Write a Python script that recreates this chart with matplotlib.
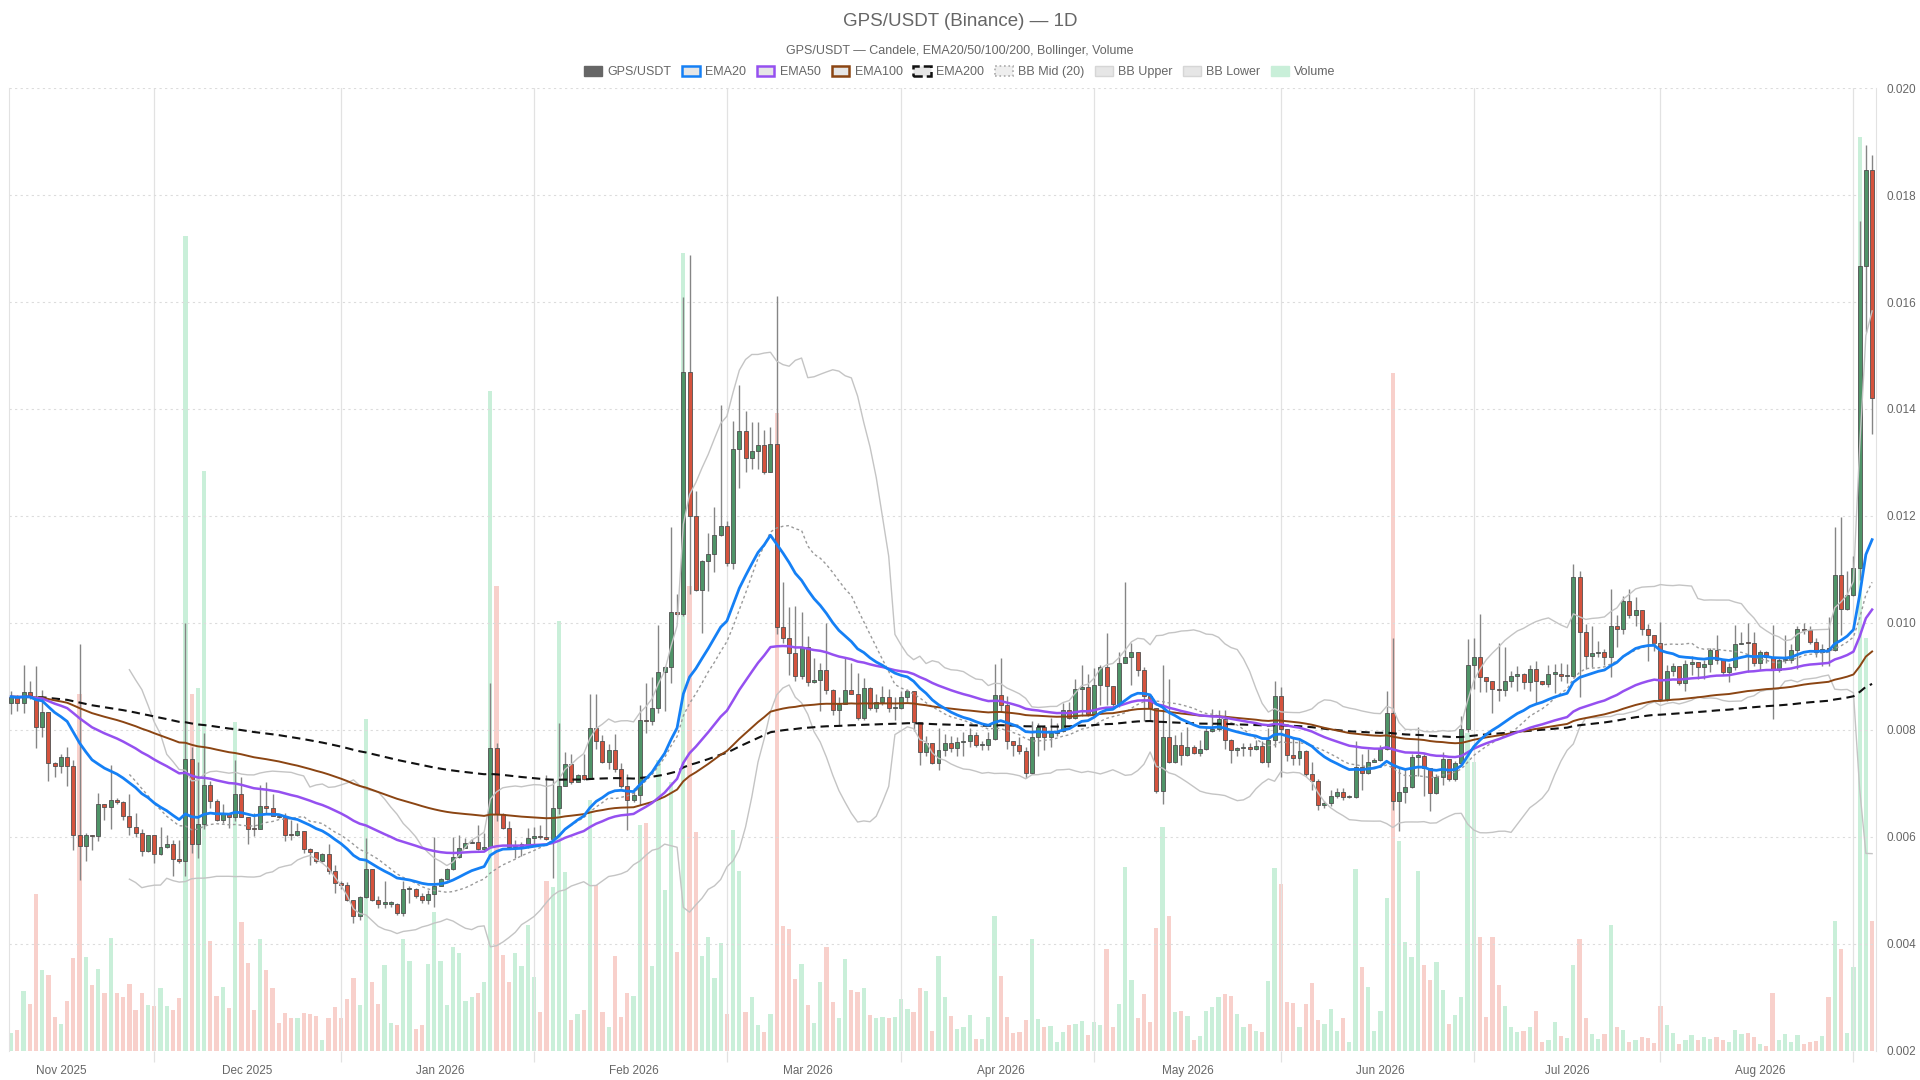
import numpy as np
import pandas as pd
import matplotlib
matplotlib.use("Agg")
from matplotlib import pyplot as plt
import matplotlib.dates as mdates
from matplotlib.patches import Patch

plt.rcParams['font.family'] = ['Liberation Sans', 'DejaVu Sans']

start_date = '2025-10-24'
open0 = 0.00851

closes = [
    0.00862, 0.00850, 0.00871, 0.00862, 0.00806, 0.00834, 0.00738, 0.00732, 0.00750, 0.00732,
    0.00603, 0.00584, 0.00604, 0.00601, 0.00661, 0.00656, 0.00670, 0.00666, 0.00639, 0.00618,
    0.00607, 0.00573, 0.00603, 0.00568, 0.00582, 0.00586, 0.00559, 0.00556, 0.00745, 0.00586,
    0.00625, 0.00697, 0.00667, 0.00631, 0.00642, 0.00637, 0.00680, 0.00637, 0.00615, 0.00614,
    0.00657, 0.00655, 0.00640, 0.00637, 0.00604, 0.00603, 0.00611, 0.00578, 0.00571, 0.00555,
    0.00569, 0.00537, 0.00514, 0.00511, 0.00483, 0.00453, 0.00488, 0.00541, 0.00483, 0.00475,
    0.00475, 0.00475, 0.00457, 0.00503, 0.00503, 0.00489, 0.00482, 0.00493, 0.00509, 0.00522,
    0.00540, 0.00563, 0.00580, 0.00589, 0.00591, 0.00578, 0.00581, 0.00766, 0.00642, 0.00617,
    0.00581, 0.00584, 0.00585, 0.00598, 0.00601, 0.00600, 0.00596, 0.00654, 0.00695, 0.00736,
    0.00703, 0.00715, 0.00709, 0.00803, 0.00779, 0.00741, 0.00762, 0.00727, 0.00696, 0.00670,
    0.00678, 0.00819, 0.00816, 0.00841, 0.00909, 0.00917, 0.01021, 0.01017, 0.01470, 0.01200,
    0.01062, 0.01115, 0.01129, 0.01164, 0.01181, 0.01112, 0.01325, 0.01358, 0.01309, 0.01322,
    0.01333, 0.01282, 0.01334, 0.00992, 0.00972, 0.00943, 0.00901, 0.00955, 0.00889, 0.00893,
    0.00913, 0.00875, 0.00838, 0.00848, 0.00875, 0.00867, 0.00823, 0.00879, 0.00841, 0.00852,
    0.00862, 0.00841, 0.00841, 0.00862, 0.00872, 0.00814, 0.00758, 0.00776, 0.00738, 0.00762,
    0.00775, 0.00767, 0.00777, 0.00780, 0.00790, 0.00771, 0.00772, 0.00784, 0.00866, 0.00847,
    0.00779, 0.00771, 0.00760, 0.00720, 0.00787, 0.00806, 0.00787, 0.00794, 0.00799, 0.00838,
    0.00823, 0.00876, 0.00881, 0.00830, 0.00884, 0.00918, 0.00883, 0.00849, 0.00925, 0.00937,
    0.00945, 0.00913, 0.00864, 0.00842, 0.00685, 0.00786, 0.00740, 0.00772, 0.00754, 0.00769,
    0.00757, 0.00765, 0.00798, 0.00801, 0.00820, 0.00781, 0.00762, 0.00766, 0.00766, 0.00765,
    0.00770, 0.00740, 0.00781, 0.00864, 0.00801, 0.00754, 0.00748, 0.00760, 0.00718, 0.00704,
    0.00659, 0.00663, 0.00677, 0.00684, 0.00675, 0.00675, 0.00731, 0.00720, 0.00740, 0.00743,
    0.00765, 0.00831, 0.00667, 0.00684, 0.00694, 0.00750, 0.00751, 0.00728, 0.00682, 0.00713,
    0.00746, 0.00708, 0.00738, 0.00801, 0.00921, 0.00936, 0.00899, 0.00891, 0.00877, 0.00875,
    0.00892, 0.00900, 0.00904, 0.00889, 0.00914, 0.00892, 0.00886, 0.00905, 0.00905, 0.00900,
    0.00900, 0.01086, 0.00983, 0.00938, 0.00943, 0.00945, 0.00936, 0.00994, 0.00988, 0.01041,
    0.01015, 0.01025, 0.00988, 0.00977, 0.00962, 0.00858, 0.00910, 0.00919, 0.00888, 0.00923,
    0.00927, 0.00917, 0.00924, 0.00950, 0.00931, 0.00908, 0.00917, 0.00960, 0.00963, 0.00962,
    0.00925, 0.00945, 0.00936, 0.00913, 0.00931, 0.00931, 0.00950, 0.00988, 0.00986, 0.00965,
    0.00945, 0.00952, 0.00950, 0.01090, 0.01027, 0.01052, 0.01102, 0.01667, 0.01847, 0.01420,
]

highs = [
    0.00872, 0.00866, 0.00922, 0.00891, 0.00920, 0.00875, 0.00834, 0.00741, 0.00756, 0.00768,
    0.00743, 0.00960, 0.00607, 0.00604, 0.00682, 0.00662, 0.00734, 0.00673, 0.00667, 0.00680,
    0.00645, 0.00614, 0.00604, 0.00604, 0.00618, 0.00603, 0.00594, 0.00594, 0.01000, 0.00768,
    0.00740, 0.00794, 0.00704, 0.00671, 0.00662, 0.00645, 0.00743, 0.00713, 0.00637, 0.00645,
    0.00698, 0.00702, 0.00680, 0.00643, 0.00645, 0.00632, 0.00626, 0.00611, 0.00579, 0.00572,
    0.00570, 0.00587, 0.00548, 0.00517, 0.00515, 0.00483, 0.00489, 0.00598, 0.00541, 0.00489,
    0.00517, 0.00480, 0.00477, 0.00517, 0.00508, 0.00505, 0.00495, 0.00501, 0.00600, 0.00524,
    0.00542, 0.00600, 0.00603, 0.00598, 0.00597, 0.00623, 0.00608, 0.00888, 0.00775, 0.00645,
    0.00629, 0.00594, 0.00590, 0.00617, 0.00618, 0.00623, 0.00715, 0.00707, 0.00813, 0.00758,
    0.00756, 0.00717, 0.00756, 0.00867, 0.00867, 0.00790, 0.00774, 0.00793, 0.00738, 0.00717,
    0.00691, 0.00847, 0.00888, 0.00899, 0.00997, 0.00919, 0.01179, 0.01055, 0.01610, 0.01688,
    0.01247, 0.01117, 0.01169, 0.01216, 0.01408, 0.01190, 0.01377, 0.01444, 0.01397, 0.01375,
    0.01375, 0.01361, 0.01366, 0.01612, 0.01077, 0.01029, 0.01031, 0.01021, 0.00975, 0.00934,
    0.00925, 0.01000, 0.00877, 0.00862, 0.00936, 0.00926, 0.00906, 0.00898, 0.00881, 0.00867,
    0.00882, 0.00877, 0.00862, 0.00872, 0.00877, 0.00872, 0.00814, 0.00789, 0.00776, 0.00803,
    0.00793, 0.00789, 0.00786, 0.00796, 0.00803, 0.00796, 0.00779, 0.00796, 0.00923, 0.00935,
    0.00864, 0.00779, 0.00786, 0.00769, 0.00816, 0.00813, 0.00809, 0.00823, 0.00813, 0.00850,
    0.00853, 0.00896, 0.00922, 0.00905, 0.00915, 0.00921, 0.00981, 0.00881, 0.00945, 0.01076,
    0.00962, 0.00946, 0.00918, 0.00864, 0.00842, 0.00921, 0.00896, 0.00790, 0.00796, 0.00805,
    0.00772, 0.00782, 0.00806, 0.00840, 0.00837, 0.00837, 0.00784, 0.00769, 0.00776, 0.00776,
    0.00782, 0.00779, 0.00804, 0.00891, 0.00881, 0.00801, 0.00786, 0.00782, 0.00762, 0.00740,
    0.00708, 0.00668, 0.00687, 0.00691, 0.00691, 0.00679, 0.00779, 0.00755, 0.00765, 0.00748,
    0.00772, 0.00872, 0.00972, 0.00728, 0.00728, 0.00755, 0.00806, 0.00755, 0.00728, 0.00718,
    0.00758, 0.00746, 0.00742, 0.00826, 0.00970, 0.00972, 0.01017, 0.00899, 0.00891, 0.00962,
    0.00955, 0.00910, 0.00919, 0.00906, 0.00921, 0.00929, 0.00892, 0.00921, 0.00923, 0.00925,
    0.00923, 0.01110, 0.01097, 0.00999, 0.00995, 0.00966, 0.00951, 0.01064, 0.01014, 0.01051,
    0.01064, 0.01048, 0.01025, 0.00999, 0.00977, 0.01001, 0.00921, 0.00925, 0.00919, 0.00931,
    0.00939, 0.00927, 0.00931, 0.00954, 0.00977, 0.00931, 0.00925, 0.00997, 0.00983, 0.01000,
    0.00983, 0.00949, 0.00948, 0.00997, 0.00936, 0.00977, 0.00960, 0.00994, 0.01000, 0.00994,
    0.00971, 0.00960, 0.01011, 0.01179, 0.01199, 0.01098, 0.01125, 0.01751, 0.01894, 0.01875,
]

lows = [
    0.00829, 0.00835, 0.00832, 0.00857, 0.00766, 0.00787, 0.00704, 0.00712, 0.00720, 0.00696,
    0.00575, 0.00519, 0.00555, 0.00576, 0.00592, 0.00632, 0.00614, 0.00662, 0.00632, 0.00603,
    0.00600, 0.00564, 0.00572, 0.00551, 0.00567, 0.00580, 0.00527, 0.00551, 0.00527, 0.00570,
    0.00561, 0.00614, 0.00654, 0.00629, 0.00626, 0.00617, 0.00629, 0.00637, 0.00586, 0.00601,
    0.00614, 0.00645, 0.00640, 0.00636, 0.00592, 0.00594, 0.00601, 0.00570, 0.00548, 0.00551,
    0.00554, 0.00531, 0.00495, 0.00502, 0.00480, 0.00439, 0.00444, 0.00486, 0.00480, 0.00467,
    0.00467, 0.00469, 0.00455, 0.00452, 0.00477, 0.00486, 0.00477, 0.00474, 0.00469, 0.00508,
    0.00520, 0.00539, 0.00561, 0.00580, 0.00588, 0.00576, 0.00573, 0.00579, 0.00629, 0.00614,
    0.00579, 0.00561, 0.00564, 0.00580, 0.00583, 0.00597, 0.00595, 0.00523, 0.00642, 0.00701,
    0.00699, 0.00702, 0.00706, 0.00709, 0.00764, 0.00738, 0.00727, 0.00722, 0.00691, 0.00613,
    0.00665, 0.00660, 0.00795, 0.00810, 0.00831, 0.00836, 0.00888, 0.01013, 0.01013, 0.01055,
    0.01060, 0.00982, 0.01060, 0.01096, 0.01163, 0.01107, 0.01101, 0.01252, 0.01283, 0.01287,
    0.01287, 0.01278, 0.01288, 0.00980, 0.00963, 0.00902, 0.00892, 0.00895, 0.00882, 0.00887,
    0.00835, 0.00867, 0.00828, 0.00809, 0.00848, 0.00867, 0.00818, 0.00818, 0.00838, 0.00833,
    0.00847, 0.00833, 0.00818, 0.00840, 0.00852, 0.00799, 0.00735, 0.00752, 0.00736, 0.00725,
    0.00752, 0.00758, 0.00752, 0.00752, 0.00769, 0.00769, 0.00762, 0.00762, 0.00782, 0.00833,
    0.00765, 0.00752, 0.00755, 0.00711, 0.00718, 0.00752, 0.00762, 0.00769, 0.00789, 0.00796,
    0.00820, 0.00820, 0.00826, 0.00826, 0.00826, 0.00847, 0.00847, 0.00843, 0.00843, 0.00925,
    0.00884, 0.00901, 0.00816, 0.00816, 0.00683, 0.00661, 0.00738, 0.00738, 0.00735, 0.00752,
    0.00755, 0.00752, 0.00762, 0.00796, 0.00799, 0.00765, 0.00738, 0.00752, 0.00752, 0.00752,
    0.00762, 0.00738, 0.00731, 0.00769, 0.00713, 0.00742, 0.00735, 0.00735, 0.00714, 0.00687,
    0.00650, 0.00655, 0.00657, 0.00672, 0.00670, 0.00672, 0.00672, 0.00687, 0.00718, 0.00740,
    0.00742, 0.00762, 0.00650, 0.00612, 0.00663, 0.00691, 0.00714, 0.00677, 0.00648, 0.00681,
    0.00697, 0.00704, 0.00704, 0.00736, 0.00796, 0.00877, 0.00871, 0.00871, 0.00832, 0.00855,
    0.00864, 0.00881, 0.00873, 0.00877, 0.00872, 0.00851, 0.00884, 0.00880, 0.00869, 0.00891,
    0.00888, 0.00899, 0.00862, 0.00914, 0.00918, 0.00936, 0.00921, 0.00899, 0.00955, 0.00980,
    0.01010, 0.00995, 0.00977, 0.00929, 0.00947, 0.00854, 0.00854, 0.00900, 0.00884, 0.00873,
    0.00902, 0.00896, 0.00896, 0.00908, 0.00923, 0.00902, 0.00890, 0.00913, 0.00960, 0.00908,
    0.00919, 0.00913, 0.00925, 0.00821, 0.00908, 0.00925, 0.00925, 0.00914, 0.00980, 0.00960,
    0.00936, 0.00919, 0.00919, 0.00948, 0.00977, 0.01025, 0.01050, 0.01081, 0.01543, 0.01353,
]

# volume, millions of GPS
volumes = [
    1.9, 2.2, 6.2, 4.9, 16.3, 8.4, 7.9, 3.5, 2.8, 5.2,
    9.7, 37.1, 9.8, 6.8, 8.5, 6.0, 11.7, 6.0, 5.6, 7.0,
    4.3, 6.0, 4.8, 4.7, 6.5, 4.7, 4.3, 5.5, 84.6, 37.1,
    37.7, 60.2, 11.4, 5.7, 6.6, 4.5, 34.2, 13.4, 9.1, 4.3,
    11.6, 8.4, 6.5, 2.9, 3.9, 3.4, 3.4, 3.9, 3.8, 3.6,
    1.1, 3.4, 4.6, 3.4, 5.4, 7.6, 4.8, 34.5, 7.2, 4.9,
    8.9, 2.9, 2.7, 11.6, 9.3, 2.3, 2.7, 9.0, 14.4, 9.3,
    4.8, 10.8, 10.2, 5.2, 5.6, 6.0, 7.2, 68.5, 48.3, 10.0,
    7.2, 10.2, 8.8, 13.1, 7.7, 4.0, 17.6, 17.0, 44.7, 18.6,
    3.2, 3.8, 4.3, 26.1, 17.2, 4.0, 2.5, 9.9, 3.5, 6.0,
    5.7, 23.5, 23.7, 8.8, 30.2, 16.7, 27.9, 10.3, 82.9, 48.3,
    22.7, 9.9, 11.8, 7.6, 11.2, 3.8, 22.9, 18.7, 4.0, 5.6,
    2.7, 2.0, 3.8, 66.2, 13.0, 12.7, 7.5, 9.0, 4.8, 2.9,
    7.2, 10.8, 5.1, 3.4, 9.5, 6.3, 6.1, 6.5, 3.7, 3.4,
    3.5, 3.4, 3.5, 5.4, 4.4, 4.0, 6.5, 6.2, 2.1, 9.9,
    5.6, 3.6, 2.3, 2.5, 3.7, 1.2, 1.2, 3.5, 14.0, 7.8,
    3.5, 1.9, 2.0, 3.2, 11.6, 3.3, 2.5, 2.6, 0.9, 2.0,
    2.7, 2.8, 3.1, 1.7, 3.0, 2.7, 10.6, 2.5, 4.9, 19.1,
    7.4, 3.4, 5.9, 3.0, 12.8, 23.3, 14.0, 4.0, 4.2, 3.6,
    1.1, 1.6, 4.1, 4.6, 5.6, 5.9, 5.7, 3.8, 2.5, 2.8,
    2.1, 2.0, 7.3, 19.0, 17.3, 5.1, 5.0, 2.5, 4.9, 7.1,
    3.2, 2.8, 4.4, 2.1, 3.4, 0.9, 18.9, 8.7, 6.6, 2.1,
    4.1, 15.9, 70.4, 21.8, 11.3, 9.8, 18.7, 8.9, 7.4, 9.2,
    6.3, 2.8, 3.7, 5.6, 33.0, 30.0, 11.8, 3.5, 11.8, 6.9,
    4.7, 2.5, 2.0, 2.1, 2.5, 4.2, 0.9, 1.1, 3.0, 1.6,
    1.3, 8.9, 11.6, 3.4, 1.8, 1.2, 1.8, 13.1, 2.5, 2.2,
    0.9, 1.1, 1.4, 1.3, 0.8, 4.7, 2.7, 1.9, 0.75, 1.1,
    1.7, 1.1, 1.4, 1.2, 1.4, 1.1, 0.9, 2.2, 1.8, 1.9,
    1.4, 0.75, 0.5, 6.0, 1.1, 1.8, 0.9, 1.7, 0.75, 0.9,
    1.0, 1.6, 5.6, 13.5, 10.6, 1.9, 8.7, 94.9, 42.9, 13.5,
]

month_labels = ['Nov 2025', 'Dec 2025', 'Jan 2026', 'Feb 2026', 'Mar 2026',
                'Apr 2026', 'May 2026', 'Jun 2026', 'Jul 2026', 'Aug 2026']

# ---- derived series
dates = pd.date_range(start_date, periods=len(closes), freq='D')
x = mdates.date2num(dates)
close = pd.Series(closes)
opens = np.array([open0] + closes[:-1])
c = np.array(closes)
hi = np.maximum(np.array(highs), np.maximum(opens, c))
lo = np.minimum(np.array(lows), np.minimum(opens, c))
up = c >= opens

ema20 = close.ewm(span=20, adjust=False).mean()
ema50 = close.ewm(span=50, adjust=False).mean()
ema100 = close.ewm(span=100, adjust=False).mean()
ema200 = close.ewm(span=200, adjust=False).mean()
bb_mid = close.rolling(20).mean()
bb_std = close.rolling(20).std(ddof=0)
bb_up = bb_mid + 2 * bb_std
bb_lo = bb_mid - 2 * bb_std

GREEN = '#4f9468'
RED = '#d5533d'
TXT = '#666666'

fig = plt.figure(figsize=(19.2, 10.8), dpi=100)
ax = fig.add_axes([0.0045, 0.0269, 0.9725, 0.8916])
axv = ax.twinx()

# volume (behind)
vol_colors = np.where(up, '#c9efd9', '#f8d0cb')
axv.bar(x, volumes, width=0.68, color=vol_colors, linewidth=0)
axv.set_ylim(0, 100)
axv.set_yticks([])
for s in axv.spines.values():
    s.set_visible(False)

ax.set_zorder(axv.get_zorder() + 1)
ax.patch.set_visible(False)

# candles
ax.vlines(x, lo, hi, color='#858585', lw=1.0, zorder=2)
body_bottom = np.minimum(opens, c)
body_h = np.maximum(np.abs(c - opens), 0.000025)
ax.bar(x, body_h, bottom=body_bottom, width=0.64,
       color=np.where(up, GREEN, RED), edgecolor='#505050', linewidth=0.6, zorder=3)

# indicators
ax.plot(x, bb_up, color='#c4c4c4', lw=1.0, zorder=4)
ax.plot(x, bb_lo, color='#c4c4c4', lw=1.0, zorder=4)
ax.plot(x, bb_mid, color='#9a9a9a', lw=1.0, ls=(0, (2, 2)), zorder=4)
ax.plot(x, ema200, color='#111111', lw=1.5, ls=(0, (4, 2.5)), zorder=5)
ax.plot(x, ema100, color='#8b4513', lw=1.4, zorder=5)
ax.plot(x, ema50, color='#9550f0', lw=1.8, zorder=5)
ax.plot(x, ema20, color='#1580f5', lw=2.0, zorder=6)

# axes styling
ax.set_xlim(x[0] - 0.4, x[-1] + 0.6)
ax.set_ylim(0.002, 0.020)
ax.set_yticks(np.arange(0.002, 0.0201, 0.002))
ax.yaxis.set_major_formatter(plt.FuncFormatter(lambda v, p: f'{v:.3f}'))
ax.yaxis.tick_right()
ax.tick_params(axis='y', length=0, labelsize=8.5, labelcolor=TXT, pad=8)

month_starts = pd.date_range('2025-11-01', periods=len(month_labels), freq='MS')
ax.set_xticks(mdates.date2num(month_starts))
ax.set_xticklabels(month_labels)
ax.xaxis.set_minor_locator(mdates.MonthLocator(bymonthday=16))
ax.tick_params(axis='x', which='major', length=0, labelsize=8.5, labelcolor=TXT, pad=10)
ax.tick_params(axis='x', which='minor', length=8, color='#e2e2e2', width=0.9)

ax.grid(axis='y', ls=(0, (2, 3)), color='#dcdcdc', lw=0.8)
ax.grid(axis='x', which='minor', ls='-', color='#e2e2e2', lw=0.9)
ax.grid(axis='x', which='major', visible=False)
ax.set_axisbelow(True)
for name, s in ax.spines.items():
    s.set_visible(name in ('left', 'right'))
    s.set_color('#e2e2e2')

# title / subtitle
fig.text(0.5, 1 - 22 / 1080, 'GPS/USDT (Binance) — 1D', ha='center', va='center',
         fontsize=13.5, color=TXT)
fig.text(0.5, 1 - 51 / 1080, 'GPS/USDT — Candele, EMA20/50/100/200, Bollinger, Volume',
         ha='center', va='center', fontsize=9, color=TXT)

handles = [
    Patch(facecolor='#666666', edgecolor='#666666'),
    Patch(facecolor='#e6e6e6', edgecolor='#1580f5', lw=1.8),
    Patch(facecolor='#e6e6e6', edgecolor='#9550f0', lw=1.8),
    Patch(facecolor='#e6e6e6', edgecolor='#8b4513', lw=1.8),
    Patch(facecolor='#e6e6e6', edgecolor='#111111', lw=1.8, ls='--'),
    Patch(facecolor='#eeeeee', edgecolor='#aaaaaa', lw=1.2, ls=':'),
    Patch(facecolor='#e6e6e6', edgecolor='#d6d6d6', lw=1.0),
    Patch(facecolor='#e6e6e6', edgecolor='#d6d6d6', lw=1.0),
    Patch(facecolor='#c9efd9', edgecolor='#c9efd9', lw=1.0),
]
labels = ['GPS/USDT', 'EMA20', 'EMA50', 'EMA100', 'EMA200',
          'BB Mid (20)', 'BB Upper', 'BB Lower', 'Volume']
fig.legend(handles, labels, loc='center', bbox_to_anchor=(0.5, 1 - 72 / 1080), ncol=9,
           frameon=False, fontsize=9, labelcolor=TXT, handlelength=1.4, handleheight=0.9,
           handletextpad=0.45, columnspacing=0.85)

fig.savefig('out.png', dpi=100)
